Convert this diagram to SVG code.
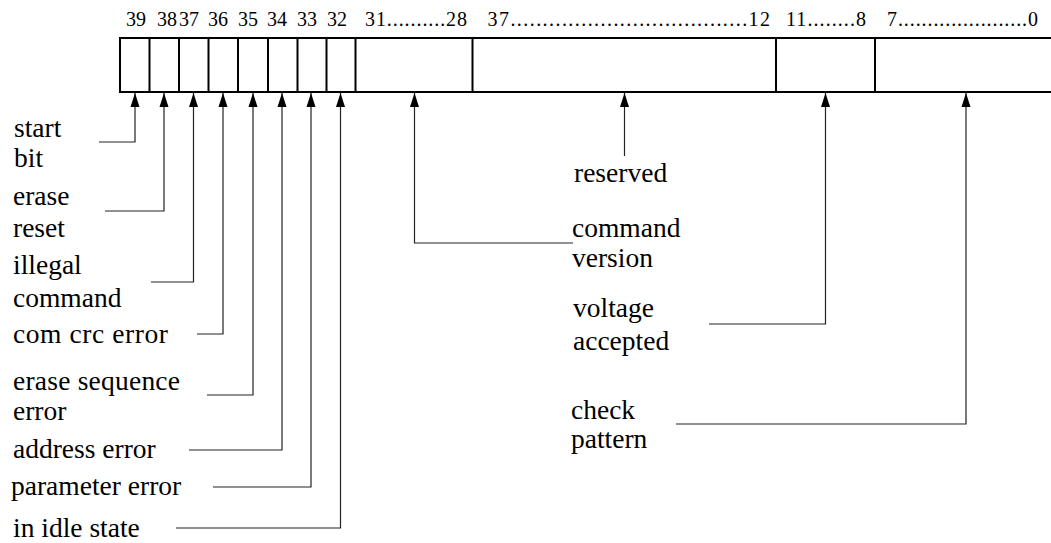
<svg xmlns="http://www.w3.org/2000/svg" width="1051" height="543" viewBox="0 0 1051 543">
<style>
  .lbl { font-family: "Liberation Serif", "Times New Roman", serif; font-size: 27.5px; fill: #000; }
  .num { font-family: "Liberation Serif", "Times New Roman", serif; font-size: 20px; fill: #000; }
  .box { fill: none; stroke: #000; stroke-width: 2; }
  .conn { fill: none; stroke: #222; stroke-width: 1.2; marker-end: url(#arr); }
</style>
<defs>
  <marker id="arr" markerUnits="userSpaceOnUse" markerWidth="15" markerHeight="10" refX="14" refY="4.5" orient="auto" viewBox="0 0 15 9">
    <path d="M0,0 L14,4.5 L0,9 z" fill="#000"/>
  </marker>
</defs>
<rect width="1051" height="543" fill="#fff"/>

<g id="register">
  <path class="box" d="M1051,38 H120 V92 H1051"/>
  <path class="box" d="M149.5,38 V92 M179,38 V92 M208.5,38 V92 M238,38 V92 M268,38 V92 M297.5,38 V92 M326.5,38 V92 M355.5,38 V92 M472.5,38 V92 M776,38 V92 M875,38 V92"/>
</g>

<g id="bit-numbers" class="num">
  <text x="126" y="26">39</text>
  <text x="157" y="26">38</text>
  <text x="179" y="26">37</text>
  <text x="208" y="26">36</text>
  <text x="238" y="26">35</text>
  <text x="267" y="26">34</text>
  <text x="297" y="26">33</text>
  <text x="327" y="26">32</text>
  <text x="365" y="26" textLength="102" lengthAdjust="spacing">31..........28</text>
  <text x="487.5" y="26" textLength="282.5" lengthAdjust="spacing">37.....................................12</text>
  <text x="786" y="26" textLength="80" lengthAdjust="spacing">11........8</text>
  <text x="887" y="26" textLength="151" lengthAdjust="spacing">7......................0</text>
</g>

<g id="connectors">
  <polyline class="conn" points="99,142 135,142 135,93"/>
  <polyline class="conn" points="105,211 164,211 164,93"/>
  <polyline class="conn" points="151,282 193.5,282 193.5,93"/>
  <polyline class="conn" points="197,334 223,334 223,93"/>
  <polyline class="conn" points="207,395 253,395 253,93"/>
  <polyline class="conn" points="189,450 282,450 282,93"/>
  <polyline class="conn" points="213,487 311,487 311,93"/>
  <polyline class="conn" points="176,528 340.5,528 340.5,93"/>
  <polyline class="conn" points="573,243 414.5,243 414.5,93"/>
  <polyline class="conn" points="624.5,156 624.5,93"/>
  <polyline class="conn" points="709,324 825.5,324 825.5,93"/>
  <polyline class="conn" points="676,424 966,424 966,93"/>
</g>

<g id="start-bit" class="lbl"><text x="14" y="137">start</text><text x="14" y="167">bit</text></g>
<g id="erase-reset" class="lbl"><text x="13" y="205">erase</text><text x="13" y="237">reset</text></g>
<g id="illegal-command" class="lbl"><text x="13" y="274">illegal</text><text x="13" y="307">command</text></g>
<g id="com-crc-error" class="lbl"><text x="13" y="343" textLength="155" lengthAdjust="spacing">com crc error</text></g>
<g id="erase-sequence-error" class="lbl"><text x="13" y="390" textLength="167" lengthAdjust="spacing">erase sequence</text><text x="13" y="420">error</text></g>
<g id="address-error" class="lbl"><text x="13" y="458">address error</text></g>
<g id="parameter-error" class="lbl"><text x="11" y="495">parameter error</text></g>
<g id="in-idle-state" class="lbl"><text x="13" y="537">in idle state</text></g>
<g id="reserved" class="lbl"><text x="574" y="182">reserved</text></g>
<g id="command-version" class="lbl"><text x="572" y="237">command</text><text x="572" y="267">version</text></g>
<g id="voltage-accepted" class="lbl"><text x="573" y="317">voltage</text><text x="573" y="350">accepted</text></g>
<g id="check-pattern" class="lbl"><text x="571" y="419">check</text><text x="571" y="448">pattern</text></g>
</svg>
